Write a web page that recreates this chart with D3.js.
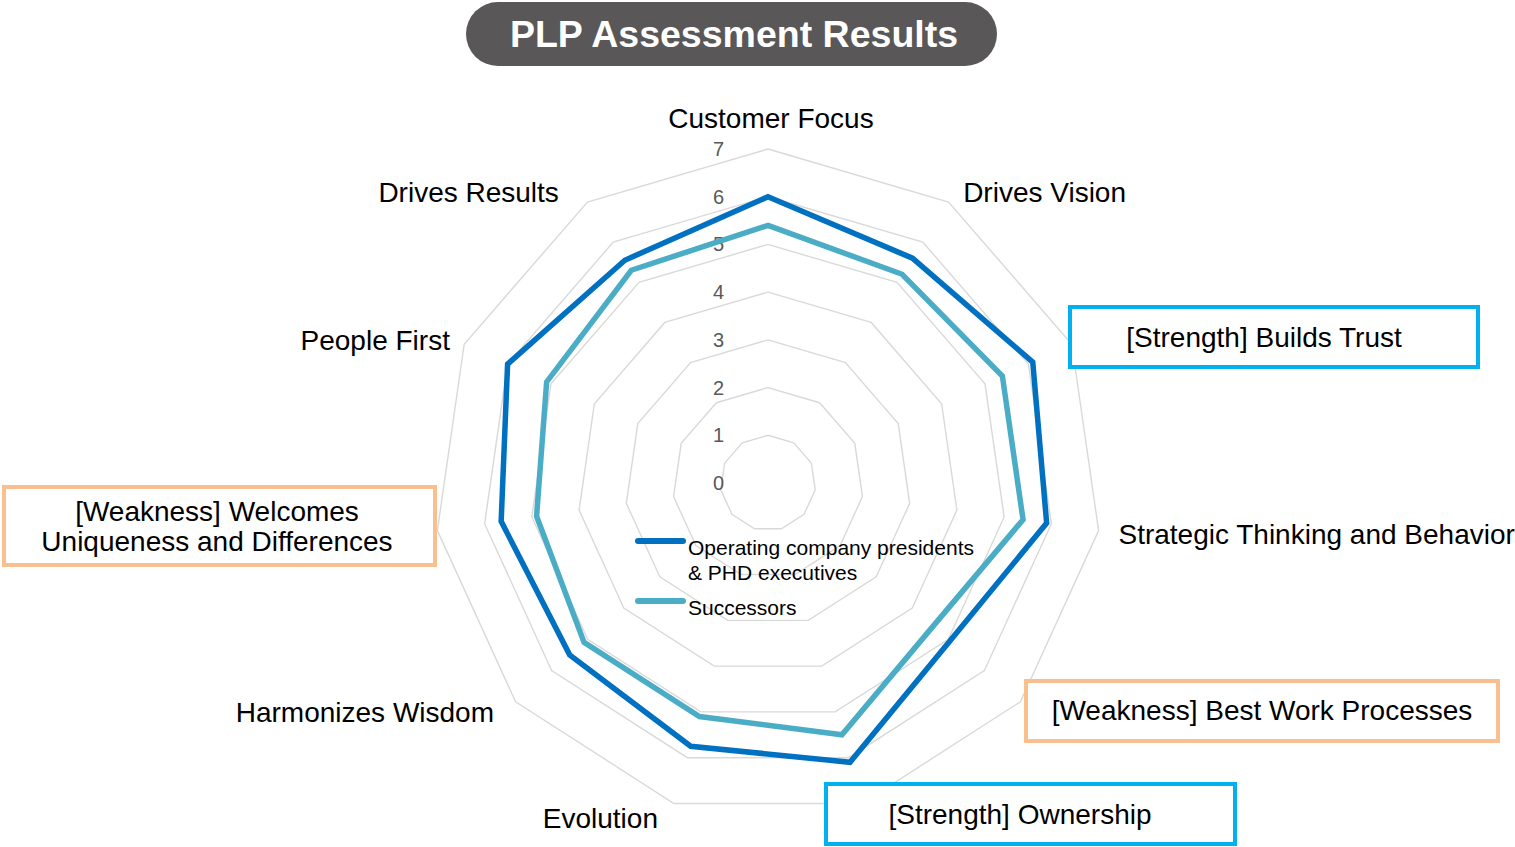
<!DOCTYPE html>
<html>
<head>
<meta charset="utf-8">
<script src="https://cdn.jsdelivr.net/npm/d3@7"></script>
<style>
body { margin: 0; background: #fff; }
svg { display: block; }
text { font-family: "Liberation Sans", Arial, sans-serif; }
</style>
</head>
<body>
<div id="chart"></div>
<script>
// values
var categories = ["Customer Focus", "Drives Vision", "Builds Trust", "Strategic Thinking and Behavior",
    "Best Work Processes", "Ownership", "Evolution", "Harmonizes Wisdom",
    "Welcomes Uniqueness and Differences", "People First", "Drives Results"]
var tags = [null, null, "Strength", null, "Weakness", "Strength", null, null, "Weakness", null, null]
var presidents = [6.0, 5.6, 6.1, 5.9, 5.05, 6.1, 5.75, 5.5, 5.65, 6.0, 5.55]
var successors = [5.4, 5.2, 5.4, 5.4, 4.58, 5.5, 5.1, 5.1, 4.9, 5.1, 5.3]
var seriesNames = [["Operating company presidents", "& PHD executives"], ["Successors"]]
var tickValues = [0, 1, 2, 3, 4, 5, 6, 7]
var title = "PLP Assessment Results"

var seriesColors = ["#0070C0", "#4BACC6"]
var tagColors = {Strength: "#00B0F0", Weakness: "#F9BF8F"}

var width = 1515
var height = 847
var center = {x: 768, y: 483}
var n = categories.length

var r = d3.scaleLinear().domain([0, 7]).range([0, 334])
var angle = d3.scaleLinear().domain([0, n]).range([0, 2 * Math.PI])

var svg = d3.select("#chart").append("svg")
    .attr("width", width)
    .attr("height", height)

// title pill
svg.append("rect")
    .attr("x", 466).attr("y", 2)
    .attr("width", 531).attr("height", 64)
    .attr("rx", 32)
    .attr("fill", "#595757")
svg.append("text")
    .attr("x", 734).attr("y", 47)
    .attr("text-anchor", "middle")
    .attr("font-size", 37.5)
    .attr("font-weight", "bold")
    .attr("fill", "#fff")
    .text(title)

var plot = svg.append("g")
    .attr("transform", "translate(" + center.x + "," + center.y + ")")

var radar = d3.lineRadial()
    .angle(function(d, i) { return angle(i) })
    .radius(function(d) { return r(d) })
    .curve(d3.curveLinearClosed)

// grid rings
plot.selectAll(".grid")
    .data(tickValues.slice(1))
    .enter().append("path")
    .attr("class", "grid")
    .attr("d", function(t) { return radar(categories.map(function() { return t })) })
    .attr("fill", "none")
    .attr("stroke", "#D9D9D9")
    .attr("stroke-width", 1.4)

// value labels
plot.selectAll(".tick")
    .data(tickValues)
    .enter().append("text")
    .attr("class", "tick")
    .attr("x", -44)
    .attr("y", function(t) { return -r(t) })
    .attr("dy", "0.35em")
    .attr("text-anchor", "end")
    .attr("font-size", 20)
    .attr("fill", "#595959")
    .text(String)

// series
plot.selectAll(".series")
    .data([presidents, successors])
    .enter().append("path")
    .attr("class", "series")
    .attr("d", radar)
    .attr("fill", "none")
    .attr("stroke", function(d, i) { return seriesColors[i] })
    .attr("stroke-width", 5.5)
    .attr("stroke-linejoin", "miter")

// axis labels (plain ones)
var labelRadius = 348
var labelNudge = [[3, -17], [7, 2], [0, 0], [6, 1.5], [0, 0], [0, 0], [-12, 1], [-11, 1], [0, 0], [-1.5, 1.6], [-21, 2]]

plot.selectAll(".axis-label")
    .data(categories.map(function(c, i) { return {name: c, i: i} }).filter(function(d) { return !tags[d.i] }))
    .enter().append("text")
    .attr("class", "axis-label")
    .attr("x", function(d) { return labelRadius * Math.sin(angle(d.i)) + labelNudge[d.i][0] })
    .attr("y", function(d) { return -labelRadius * Math.cos(angle(d.i)) + labelNudge[d.i][1] })
    .attr("dy", "0.35em")
    .attr("text-anchor", function(d) {
        var s = Math.sin(angle(d.i))
        return Math.abs(s) < 0.1 ? "middle" : (s > 0 ? "start" : "end")
    })
    .attr("font-size", 28)
    .attr("fill", "#000")
    .text(function(d) { return d.name })

// callout boxes for strengths and weaknesses
var callouts = [
    {i: 2, x: 1070, y: 307, w: 408, h: 60, tx: 1264, ty: 347, wrap: 0},
    {i: 4, x: 1026, y: 681, w: 472, h: 60, tx: 1262, ty: 720, wrap: 0},
    {i: 5, x: 826, y: 784, w: 409, h: 60, tx: 1020, ty: 824, wrap: 0},
    {i: 8, x: 4, y: 487, w: 431, h: 78, tx: 217, ty: 521, wrap: 1}
]

var boxes = svg.selectAll(".callout")
    .data(callouts)
    .enter().append("g")
    .attr("class", "callout")

boxes.append("rect")
    .attr("x", function(d) { return d.x })
    .attr("y", function(d) { return d.y })
    .attr("width", function(d) { return d.w })
    .attr("height", function(d) { return d.h })
    .attr("fill", "#fff")
    .attr("stroke", function(d) { return tagColors[tags[d.i]] })
    .attr("stroke-width", 4)

boxes.each(function(d) {
    var full = "[" + tags[d.i] + "] " + categories[d.i]
    var lines = [full]
    if (d.wrap) {
        var words = categories[d.i].split(" ")
        lines = ["[" + tags[d.i] + "] " + words.slice(0, d.wrap).join(" "), words.slice(d.wrap).join(" ")]
    }
    d3.select(this).selectAll("text")
        .data(lines)
        .enter().append("text")
        .attr("x", d.tx)
        .attr("y", function(l, k) { return d.ty + k * 30 })
        .attr("text-anchor", "middle")
        .attr("font-size", 28)
        .attr("fill", "#000")
        .text(function(l) { return l })
})

// legend
var legend = svg.append("g").attr("transform", "translate(638,541)")
var items = legend.selectAll(".item")
    .data(seriesNames)
    .enter().append("g")
    .attr("class", "item")
    .attr("transform", function(d, i) { return "translate(0," + (i * 60) + ")" })

items.append("line")
    .attr("x1", 0).attr("x2", 45)
    .attr("y1", 0).attr("y2", 0)
    .attr("stroke", function(d, i) { return seriesColors[i] })
    .attr("stroke-width", 6)
    .attr("stroke-linecap", "round")

items.each(function(d) {
    d3.select(this).selectAll("text")
        .data(d)
        .enter().append("text")
        .attr("x", 50)
        .attr("y", function(l, k) { return 14 + k * 25 })
        .attr("font-size", 21)
        .attr("fill", "#000")
        .text(function(l) { return l })
})
</script>
</body>
</html>
